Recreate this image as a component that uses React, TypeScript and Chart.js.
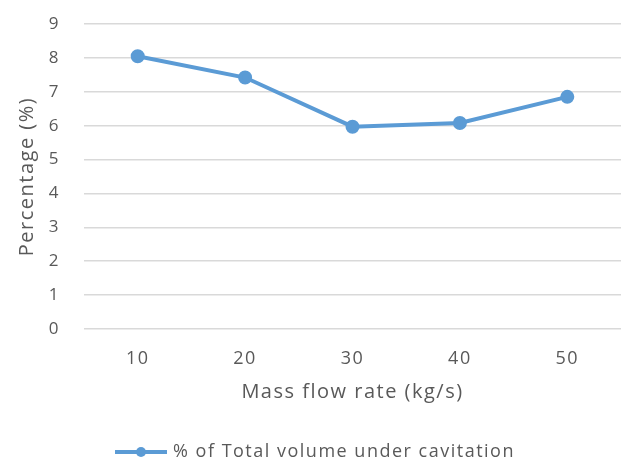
import React, { useEffect, useRef } from "react";
import { Chart, registerables } from "chart.js";

Chart.register(...registerables);

const categories = ["10", "20", "30", "40", "50"];
const seriesLabel = "% of Total volume under cavitation";
const seriesValues = [8.05, 7.42, 5.97, 6.08, 6.85];
const yTitle = "Percentage (%)";
const xTitle = "Mass flow rate (kg/s)";

const LINE_COLOR = "#5b9bd5";
const TEXT_COLOR = "#595959";
const FONT = "'Open Sans', sans-serif";
const SPACING = "1.5px";

const spacingPlugin = {
  id: "letterSpacing",
  beforeUpdate(chart: any) {
    chart.ctx.letterSpacing = SPACING;
  },
  beforeDraw(chart: any) {
    chart.ctx.letterSpacing = SPACING;
  },
};

const legendPlugin = {
  id: "customLegend",
  afterDraw(chart: any) {
    const ctx = chart.ctx;
    const ds = chart.data.datasets[0];
    ctx.save();
    ctx.letterSpacing = SPACING;
    ctx.font = `18px ${FONT}`;
    const text = ds.label as string;
    const tw = ctx.measureText(text).width;
    const lineW = 52;
    const gap = 6;
    const total = lineW + gap + tw;
    const cx = chart.width / 2;
    const y = chart.height - 9;
    const x0 = cx - total / 2;
    ctx.strokeStyle = LINE_COLOR;
    ctx.lineWidth = 4;
    ctx.beginPath();
    ctx.moveTo(x0, y);
    ctx.lineTo(x0 + lineW, y);
    ctx.stroke();
    ctx.fillStyle = LINE_COLOR;
    ctx.beginPath();
    ctx.arc(x0 + lineW / 2, y, 5, 0, Math.PI * 2);
    ctx.fill();
    ctx.fillStyle = TEXT_COLOR;
    ctx.textBaseline = "middle";
    ctx.textAlign = "left";
    ctx.fillText(text, x0 + lineW + gap, y);
    ctx.restore();
  },
};

export default function App() {
  const ref = useRef<HTMLCanvasElement | null>(null);
  useEffect(() => {
    document.body.style.margin = "0";
    const chart = new Chart(ref.current!, {
      type: "line",
      data: {
        labels: categories,
        datasets: [
          {
            label: seriesLabel,
            data: seriesValues,
            borderColor: LINE_COLOR,
            backgroundColor: LINE_COLOR,
            borderWidth: 4,
            pointRadius: 5,
            pointHoverRadius: 5,
            pointBackgroundColor: LINE_COLOR,
            pointBorderColor: LINE_COLOR,
            tension: 0,
          },
        ],
      },
      options: {
        animation: false,
        responsive: false,
        layout: { padding: { top: 24, right: 8, bottom: 57, left: 15 } },
        plugins: {
          legend: { display: false },
          tooltip: { enabled: false },
        },
        scales: {
          x: {
            offset: true,
            grid: { display: false },
            border: { display: false },
            ticks: { color: TEXT_COLOR, font: { family: FONT, size: 18 }, padding: 11 },
            title: {
              display: true,
              text: xTitle,
              color: TEXT_COLOR,
              font: { family: FONT, size: 20 },
              padding: { top: 0, bottom: 0 },
            },
            afterFit(scale: any) {
              scale.height = 75;
            },
          },
          y: {
            min: 0,
            max: 9,
            ticks: {
              stepSize: 1,
              color: TEXT_COLOR,
              font: { family: FONT, size: 17 },
              padding: 24,
            },
            grid: { color: "#d9d9d9", lineWidth: 1.5, drawTicks: false },
            border: { display: false },
            title: {
              display: true,
              text: yTitle,
              color: TEXT_COLOR,
              font: { family: FONT, size: 20 },
              padding: { top: 0, bottom: 0 },
            },
            afterFit(scale: any) {
              scale.width = 69;
              scale.paddingTop = 0;
              scale.paddingBottom = 0;
            },
          },
        },
      },
      plugins: [spacingPlugin, legendPlugin],
    });
    return () => chart.destroy();
  }, []);
  return (
    <div style={{ width: 630, height: 461 }}>
      <canvas ref={ref} width={630} height={461} />
    </div>
  );
}
